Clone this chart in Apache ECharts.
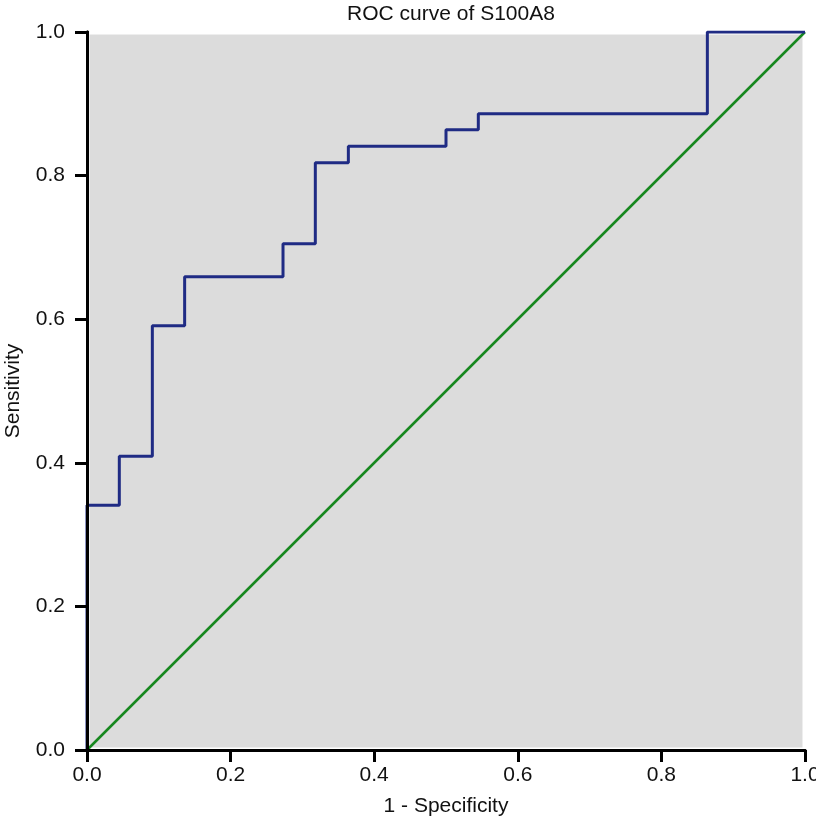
<!DOCTYPE html>
<html>
<head>
<meta charset="utf-8">
<script src="https://cdn.jsdelivr.net/npm/echarts@6/dist/echarts.min.js"></script>
<style>
  html, body { margin: 0; padding: 0; background: #fff; }
  #chart { width: 816px; height: 828px; }
</style>
</head>
<body>
<div id="chart"></div>
<script>
// ROC points (1 - specificity, sensitivity), drawn as a step line
const fpr = [0, 0, 0.045, 0.091, 0.136, 0.273, 0.318, 0.364, 0.5, 0.545, 0.864, 1];
const tpr = [0, 0.341, 0.409, 0.591, 0.659, 0.705, 0.818, 0.841, 0.864, 0.886, 1, 1];
// reference diagonal
const refX = [0, 1];
const refY = [0, 1];

const font = 'Liberation Sans, Arial, sans-serif';

let chart = echarts.init(document.getElementById('chart'));

let option = {
  animation: false,
  title: {
    text: 'ROC curve of S100A8',
    left: 446,
    top: -1,
    textAlign: 'center',
    textStyle: { fontFamily: font, fontSize: 21, fontWeight: 'normal', color: '#111' }
  },
  grid: {
    left: 87, top: 32, width: 718, height: 718,
    outerBoundsMode: 'none',
    containLabel: false,
    show: true,
    backgroundColor: '#dcdcdc',
    borderColor: '#fff',
    borderWidth: 5
  },
  xAxis: [
    {
      type: 'value', min: 0, max: 1, interval: 0.2, z: 10,
      name: '1 - Specificity', nameLocation: 'middle', nameGap: 46,
      nameTextStyle: { fontFamily: font, fontSize: 21, color: '#111' },
      axisLine: { lineStyle: { color: '#000', width: 3 } },
      axisTick: { length: 12, lineStyle: { color: '#000', width: 3 } },
      axisLabel: {
        margin: 15, fontFamily: font, fontSize: 21, color: '#111',
        formatter: v => v.toFixed(1)
      },
      splitLine: { show: false }
    },
    {
      type: 'value', min: 0, max: 1, position: 'top', z: 10,
      axisLine: { show: true, lineStyle: { color: '#000', width: 3 } },
      axisTick: { show: false }, axisLabel: { show: false }, splitLine: { show: false }
    }
  ],
  yAxis: [
    {
      type: 'value', min: 0, max: 1, interval: 0.2, z: 10,
      name: 'Sensitivity', nameLocation: 'middle', nameGap: 63,
      nameTextStyle: { fontFamily: font, fontSize: 21, color: '#111' },
      axisLine: { show: true, lineStyle: { color: '#000', width: 3 } },
      axisTick: { show: true, length: 12, lineStyle: { color: '#000', width: 3 } },
      axisLabel: {
        margin: 22, fontFamily: font, fontSize: 21, color: '#111',
        formatter: v => v.toFixed(1)
      },
      splitLine: { show: false }
    },
    {
      type: 'value', min: 0, max: 1, position: 'right', z: 10,
      axisLine: { show: true, lineStyle: { color: '#000', width: 3 } },
      axisTick: { show: false }, axisLabel: { show: false }, splitLine: { show: false }
    }
  ],
  series: [
    {
      name: 'Reference',
      type: 'line',
      data: refX.map((x, i) => [x, refY[i]]),
      showSymbol: false,
      lineStyle: { color: '#16881e', width: 2.5 },
      z: 2
    },
    {
      name: 'S100A8',
      type: 'line',
      step: 'end',
      data: fpr.map((x, i) => [x, tpr[i]]),
      showSymbol: false,
      lineStyle: { color: '#1f2b84', width: 3 },
      z: 3
    }
  ]
};

chart.setOption(option);
</script>
</body>
</html>
